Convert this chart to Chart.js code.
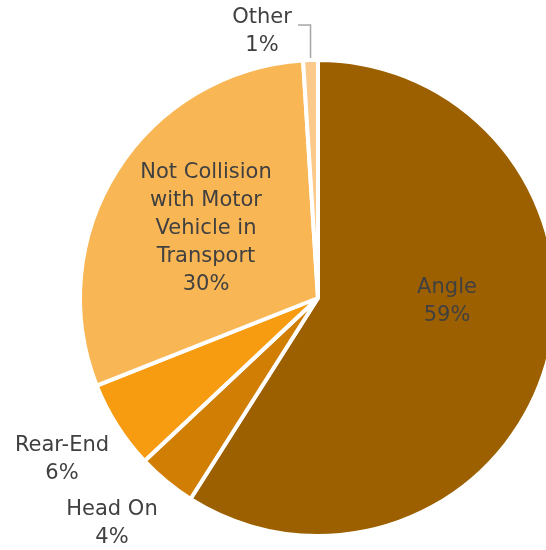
<!DOCTYPE html>
<html>
<head>
<meta charset="utf-8">
<script src="https://cdn.jsdelivr.net/npm/chart.js@4"></script>
<style>
  html, body { margin: 0; padding: 0; background: #fff; overflow: hidden; }
  #wrap { width: 636px; height: 550px; }
</style>
</head>
<body>
<div id="wrap"><canvas id="pie" width="636" height="550"></canvas></div>
<script>
// Data
const categories = ['Angle', 'Head On', 'Rear-End', 'Not Collision with Motor Vehicle in Transport', 'Other'];
const shares = [59, 4, 6, 30, 1];
const sliceColors = ['#9C6000', '#D07E04', '#F79B10', '#F9B655', '#FBC98A'];
const labelLines = [['Angle'], ['Head On'], ['Rear-End'], ['Not Collision', 'with Motor', 'Vehicle in', 'Transport'], ['Other']];

// label anchors relative to the pie centre (dx, dy of first line)
const labelOffsets = [[129, -10], [-206, 212], [-256, 148], [-112, -125], [-56, -280]];

const labelPlugin = {
  id: 'sliceLabels',
  afterDraw(chart) {
    const ctx = chart.ctx;
    const arcs = chart.getDatasetMeta(0).data;
    const lineH = 28;
    ctx.save();
    ctx.font = '21px "DejaVu Sans"';
    ctx.fillStyle = '#404040';
    ctx.textAlign = 'center';
    ctx.textBaseline = 'middle';
    arcs.forEach((arc, i) => {
      const cx = arc.x, cy = arc.y;
      const [dx, dy] = labelOffsets[i];
      const lines = labelLines[i].concat([shares[i] + '%']);
      lines.forEach((txt, j) => ctx.fillText(txt, cx + dx, cy + dy + j * lineH));

      // leader line for the tiny slice
      if (categories[i] === 'Other') {
        const mid = (arc.startAngle + arc.endAngle) / 2;
        const ex = cx + Math.cos(mid) * arc.outerRadius;
        const ey = cy + Math.sin(mid) * arc.outerRadius;
        const ly = cy + dy + 7;
        ctx.strokeStyle = '#A6A6A6';
        ctx.lineWidth = 1.5;
        ctx.beginPath();
        ctx.moveTo(ex, ey - 2);
        ctx.lineTo(ex, ly);
        ctx.lineTo(cx + dx + 36, ly);
        ctx.stroke();
      }
    });
    ctx.restore();
  }
};

new Chart(document.getElementById('pie'), {
  type: 'pie',
  data: {
    labels: categories,
    datasets: [{
      data: shares,
      backgroundColor: sliceColors,
      borderColor: '#ffffff',
      borderWidth: 4
    }]
  },
  options: {
    responsive: false,
    animation: false,
    layout: { padding: { left: 78, right: 78, top: 58, bottom: 12 } },
    plugins: { legend: { display: false }, tooltip: { enabled: false } }
  },
  plugins: [labelPlugin]
});
</script>
</body>
</html>
